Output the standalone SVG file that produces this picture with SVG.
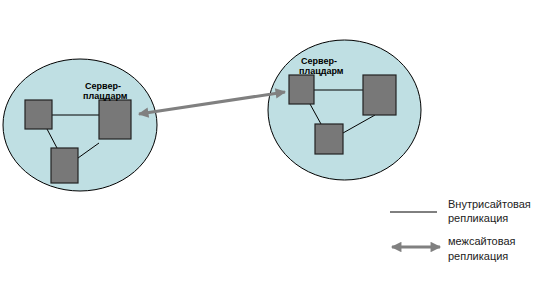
<svg xmlns="http://www.w3.org/2000/svg" width="545" height="286" viewBox="0 0 545 286">
<style>
.site{fill:#bfdfe3;stroke:#000;stroke-width:1}
.srv{fill:#787878;stroke:#222;stroke-width:1.2}
.ln{stroke:#000;stroke-width:1;fill:none}
.arr{stroke:#808080;stroke-width:3;fill:none;marker-start:url(#ah);marker-end:url(#ah)}
.lbl{font-family:"Liberation Sans",Arial,sans-serif;font-size:9px;font-weight:bold;fill:#000}
.leg{font-family:"Liberation Sans",Arial,sans-serif;font-size:11px;fill:#222}
</style>
<defs>
<marker id="ah" viewBox="0 0 10 10" refX="9" refY="5" markerWidth="4" markerHeight="3.5" orient="auto-start-reverse" markerUnits="strokeWidth">
<path d="M0,0 L10,5 L0,10 z" fill="#808080"/>
</marker>
</defs>
<rect width="545" height="286" fill="#fff"/>
<g id="site1">
<ellipse class="site" cx="80" cy="125" rx="77" ry="66"/>
</g>
<g id="site2">
<ellipse class="site" cx="344.5" cy="110" rx="76.5" ry="70"/>
</g>
<g id="connectors">
<line class="ln" x1="52" y1="115" x2="99" y2="115"/>
<line class="ln" x1="47" y1="129" x2="57" y2="148"/>
<line class="ln" x1="99" y1="143" x2="78" y2="158"/>
<line class="ln" x1="314" y1="90" x2="363" y2="90"/>
<line class="ln" x1="310" y1="104" x2="321" y2="124"/>
<line class="ln" x1="375" y1="115" x2="343" y2="133"/>
<line class="arr" x1="139" y1="114" x2="285" y2="92"/>
</g>
<g id="s1a"><rect class="srv" x="25" y="100" width="27" height="29"/></g>
<g id="s1b"><rect class="srv" x="99" y="100" width="32" height="39"/></g>
<g id="s1c"><rect class="srv" x="51" y="148" width="27" height="35"/></g>
<g id="s2a"><rect class="srv" x="289" y="75" width="25" height="29"/></g>
<g id="s2b"><rect class="srv" x="363" y="75" width="33" height="40"/></g>
<g id="s2c"><rect class="srv" x="315" y="124" width="28" height="30"/></g>
<g id="label1">
<text class="lbl" x="85" y="89">Сервер-</text>
<text class="lbl" x="83" y="99">плацдарм</text>
</g>
<g id="label2">
<text class="lbl" x="301" y="64">Сервер-</text>
<text class="lbl" x="299" y="74">плацдарм</text>
</g>
<g id="legend">
<line class="ln" x1="390" y1="212" x2="437" y2="212"/>
<text class="leg" x="448" y="208">Внутрисайтовая</text>
<text class="leg" x="448" y="222">репликация</text>
<line class="arr" x1="392" y1="247" x2="440" y2="247"/>
<text class="leg" x="448" y="245">межсайтовая</text>
<text class="leg" x="448" y="260">репликация</text>
</g>
</svg>
